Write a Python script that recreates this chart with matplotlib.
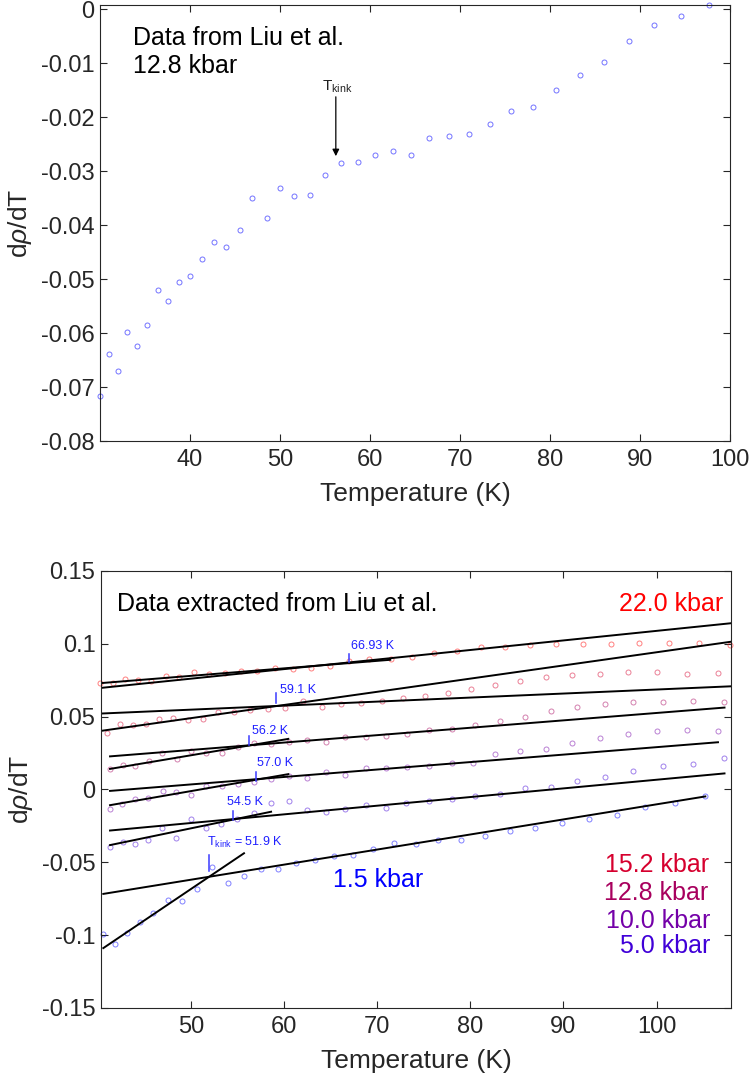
import matplotlib
matplotlib.use('Agg')
import matplotlib.pyplot as plt

plt.rcParams['font.family'] = ['Liberation Sans', 'DejaVu Sans']
plt.rcParams['mathtext.fontset'] = 'custom'
plt.rcParams['mathtext.rm'] = 'Liberation Sans'
plt.rcParams['mathtext.it'] = 'Liberation Sans:italic'
plt.rcParams['axes.unicode_minus'] = False

# ---- top panel data (12.8 kbar, Liu et al.) ----
top_T = [30.0, 31.0, 32.0, 33.0, 34.1, 35.25, 36.4, 37.6, 38.8, 40.0, 41.3, 42.7, 44.0,
         45.5, 46.9, 48.5, 50.0, 51.6, 53.3, 55.0, 56.8, 58.7, 60.6, 62.5, 64.5, 66.6,
         68.8, 71.0, 73.3, 75.7, 78.1, 80.7, 83.3, 86.0, 88.8, 91.6, 94.6, 97.7]
top_v = [-0.0717, -0.0638, -0.0670, -0.0597, -0.0623, -0.0584, -0.0520, -0.0540, -0.0506,
         -0.0494, -0.0462, -0.0431, -0.0440, -0.0409, -0.0350, -0.0386, -0.0331, -0.0346,
         -0.0344, -0.0307, -0.0285, -0.0282, -0.0269, -0.0262, -0.0269, -0.0239, -0.0235,
         -0.0230, -0.0213, -0.0188, -0.0181, -0.0149, -0.0122, -0.0098, -0.0059, -0.0029,
         -0.0012, 0.0008]
top_kink = 56.2

# ---- bottom panel data ----
T_220 = [40.22, 41.59, 42.94, 44.34, 45.75, 47.26, 48.74, 50.34, 51.95, 53.63, 55.37, 57.12,
         58.98, 60.92, 62.85, 64.89, 66.94, 69.15, 71.45, 73.73, 76.10, 78.57, 81.11, 83.72,
         86.44, 89.23, 92.13, 95.11, 98.15, 101.37, 104.59, 107.92]
v_220 = [0.0730, 0.0733, 0.0760, 0.0753, 0.0742, 0.0776, 0.0774, 0.0808, 0.0790, 0.0801,
         0.0812, 0.0810, 0.0836, 0.0826, 0.0836, 0.0849, 0.0881, 0.0895, 0.0895, 0.0906,
         0.0934, 0.0952, 0.0975, 0.0979, 0.0993, 0.0995, 0.0995, 0.0995, 0.1004, 0.1002,
         0.1002, 0.0993]

T_152 = [41.01, 42.37, 43.73, 45.13, 46.59, 48.10, 49.67, 51.29, 52.93, 54.65, 56.37, 58.24,
         60.13, 62.06, 64.07, 66.14, 68.29, 70.48, 72.77, 75.16, 77.57, 80.07, 82.68, 85.34,
         88.10, 90.95, 93.89, 96.94, 100.08, 103.30, 106.64]
v_152 = [0.0388, 0.0449, 0.0440, 0.0452, 0.0486, 0.0493, 0.0479, 0.0482, 0.0529, 0.0532,
         0.0548, 0.0550, 0.0562, 0.0605, 0.0568, 0.0589, 0.0593, 0.0610, 0.0625, 0.0644,
         0.0660, 0.0689, 0.0719, 0.0742, 0.0774, 0.0788, 0.0795, 0.0808, 0.0803, 0.0795,
         0.0797]

T_128 = [41.30, 42.66, 44.01, 45.45, 46.91, 48.46, 50.03, 51.64, 53.29, 55.01, 56.76, 58.62,
         60.49, 62.49, 64.50, 66.57, 68.76, 70.97, 73.23, 75.59, 78.03, 80.53, 83.19, 85.87,
         88.66, 91.49, 94.46, 97.50, 100.69, 103.92, 107.28]
v_128 = [0.0139, 0.0168, 0.0162, 0.0192, 0.0247, 0.0212, 0.0264, 0.0253, 0.0253, 0.0292,
         0.0319, 0.0315, 0.0329, 0.0340, 0.0326, 0.0360, 0.0363, 0.0365, 0.0384, 0.0411,
         0.0418, 0.0445, 0.0473, 0.0500, 0.0536, 0.0568, 0.0584, 0.0603, 0.0600, 0.0605,
         0.0603]

T_100 = [41.30, 42.62, 43.98, 45.41, 46.94, 48.44, 50.00, 51.66, 53.29, 55.01, 56.79, 58.62,
         60.49, 62.49, 64.50, 66.57, 68.76, 70.97, 73.23, 75.59, 78.03, 80.29, 82.62, 85.34,
         88.10, 90.95, 93.89, 96.94, 100.08, 103.30, 106.64]
v_100 = [-0.0137, -0.0103, -0.0066, -0.0058, -0.0012, -0.0018, -0.0037, 0.0021, 0.0024,
         0.0036, 0.0053, 0.0075, 0.0093, 0.0079, 0.0118, 0.0100, 0.0144, 0.0144, 0.0153,
         0.0158, 0.0180, 0.0180, 0.0244, 0.0267, 0.0281, 0.0319, 0.0351, 0.0384, 0.0399,
         0.0408, 0.0399]

T_50 = [41.30, 42.64, 44.00, 45.43, 46.90, 48.43, 49.99, 51.64, 53.27, 54.97, 56.79, 58.61,
        60.50, 62.49, 64.50, 66.57, 68.76, 70.94, 73.14, 75.59, 78.05, 80.53, 83.17, 85.87,
        88.66, 91.49, 94.46, 97.50, 100.69, 103.92, 107.28]
v_50 = [-0.0397, -0.0359, -0.0377, -0.0344, -0.0262, -0.0335, -0.0201, -0.0266, -0.0234,
        -0.0205, -0.0164, -0.0095, -0.0077, -0.0142, -0.0153, -0.0135, -0.0108, -0.0126,
        -0.0094, -0.0077, -0.0066, -0.0046, -0.0032, 0.0007, 0.0016, 0.0060, 0.0086,
        0.0130, 0.0162, 0.0178, 0.0216]

T_15 = [40.58, 41.83, 43.15, 44.55, 45.95, 47.53, 49.03, 50.64, 52.29, 53.94, 55.72, 57.52,
        59.37, 61.31, 63.32, 65.32, 67.43, 69.58, 71.80, 74.14, 76.53, 79.03, 81.61, 84.26,
        86.98, 89.81, 92.71, 95.72, 98.80, 102.01, 105.24]
v_15 = [-0.0993, -0.1058, -0.0982, -0.0911, -0.0845, -0.0758, -0.0763, -0.0683, -0.0534,
        -0.0642, -0.0596, -0.0548, -0.0548, -0.0505, -0.0482, -0.0457, -0.0452, -0.0411,
        -0.0368, -0.0377, -0.0347, -0.0345, -0.0322, -0.0284, -0.0267, -0.0233, -0.0201,
        -0.0178, -0.0119, -0.0096, -0.0048]

# fitted straight lines: (T start, v start, T end, v end)
fit_lines = [
    (40.33, 0.0697, 108.0, 0.1141),
    (40.33, 0.0730, 71.4, 0.0890),
    (40.33, 0.0402, 108.0, 0.1014),
    (40.33, 0.0521, 108.0, 0.0708),
    (41.30, 0.0227, 107.3, 0.0562),
    (41.30, 0.0141, 60.45, 0.0347),
    (41.30, -0.0010, 106.6, 0.0324),
    (41.30, -0.0108, 60.45, 0.0105),
    (41.30, -0.0282, 107.3, 0.0110),
    (41.30, -0.0382, 58.6, -0.0153),
    (40.58, -0.0717, 105.24, -0.0048),
    (40.58, -0.1089, 55.69, -0.0438),
]

# kink markers: T, v low, v high, label, label T, label v
kinks = [
    (66.93, 0.0874, 0.0927, '66.93 K', 67.15, 0.0966),
    (59.1, 0.0596, 0.0662, '59.1 K', 59.56, 0.0664),
    (56.2, 0.0303, 0.0365, '56.2 K', 56.52, 0.0379),
    (57.0, 0.0059, 0.0123, '57.0 K', 57.10, 0.0160),
    (54.5, -0.0210, -0.0147, '54.5 K', 53.83, -0.0108),
    (51.9, -0.0558, -0.0448, r'$\mathregular{T_{kink}}$ = 51.9 K', 51.75, -0.0388),
]

series = [
    (T_220, v_220, '#ff0000'),
    (T_152, v_152, '#d6002e'),
    (T_128, v_128, '#a8005e'),
    (T_100, v_100, '#7400a8'),
    (T_50, v_50, '#4000d8'),
    (T_15, v_15, '#0000ff'),
]

# pressure labels: text, T, v, colour, alignment
p_labels = [
    ('22.0 kbar', 107.2, 0.1228, '#ff0000', 'right'),
    ('15.2 kbar', 105.6, -0.0564, '#d6002e', 'right'),
    ('12.8 kbar', 105.6, -0.0758, '#a8005e', 'right'),
    ('10.0 kbar', 105.8, -0.0952, '#7400a8', 'right'),
    ('5.0 kbar', 105.8, -0.1123, '#4000d8', 'right'),
    ('1.5 kbar', 65.3, -0.0667, '#0000ff', 'left'),
]

axcol = '#262626'
tick_fs = 17
lab_fs = 19
txt_fs = 18


def style_axes(ax):
    for s in ax.spines.values():
        s.set_color(axcol)
        s.set_linewidth(0.8)
    ax.tick_params(direction='in', length=5, width=0.8, colors=axcol,
                   labelsize=tick_fs, top=True, right=True, labelcolor=axcol)
    ax.tick_params(axis='y', pad=4)
    ax.tick_params(axis='x', pad=6)


fig = plt.figure(figsize=(7.52, 10.85), dpi=100)

# top panel
ax1 = fig.add_axes([0.1330, 0.5935, 0.8378, 0.4018])
ax1.plot(top_T, top_v, 'o', ms=3.6, mfc='none', mec='#0000ff', mew=0.7, alpha=0.55,
         clip_on=False)
ax1.set_xlim(30, 100)
ax1.set_ylim(-0.08, 0.0008)
ax1.set_xticks([40, 50, 60, 70, 80, 90, 100])
ax1.set_yticks([-0.08, -0.07, -0.06, -0.05, -0.04, -0.03, -0.02, -0.01, 0])
ax1.set_yticklabels(['-0.08', '-0.07', '-0.06', '-0.05', '-0.04', '-0.03', '-0.02', '-0.01', '0'])
style_axes(ax1)
ax1.set_xlabel('Temperature (K)', fontsize=lab_fs, color=axcol, labelpad=8)
ax1.set_ylabel(r'd$\rho$/dT', fontsize=lab_fs, color=axcol)
ax1.yaxis.set_label_coords(-0.104, 0.5)
ax1.text(33.67, -0.0066, 'Data from Liu et al.', fontsize=txt_fs, va='baseline')
ax1.text(33.67, -0.0118, '12.8 kbar', fontsize=txt_fs, va='baseline')
ax1.annotate('', xy=(top_kink, -0.0272), xytext=(top_kink, -0.0162),
             arrowprops=dict(arrowstyle='-|>', color='black', lw=0.9,
                             mutation_scale=10, shrinkA=0, shrinkB=0))
ax1.text(top_kink + 0.2, -0.0158, r'$\mathregular{T_{kink}}$', fontsize=11,
         ha='center', va='bottom', color='#202020')

# bottom panel
ax2 = fig.add_axes([0.1343, 0.0710, 0.8378, 0.4028])
for T, v, c in series:
    ax2.plot(T, v, 'o', ms=3.6, mfc='none', mec=c, mew=0.7, alpha=0.5, clip_on=False)
for t0, v0, t1, v1 in fit_lines:
    ax2.plot([t0, t1], [v0, v1], color='black', lw=1.4)
for tk, vlo, vhi, lab, lt, lv in kinks:
    ax2.plot([tk, tk], [vlo, vhi], color='#3a3aff', lw=1.1)
    ax2.text(lt, lv, lab, fontsize=9, color='#1f1fff', va='baseline')
for lab, lt, lv, c, ha in p_labels:
    ax2.text(lt, lv, lab, fontsize=txt_fs, color=c, ha=ha, va='baseline')
ax2.text(42.0, 0.1228, 'Data extracted from Liu et al.', fontsize=txt_fs, va='baseline')
ax2.set_xlim(40.33, 108.0)
ax2.set_ylim(-0.15, 0.15)
ax2.set_xticks([50, 60, 70, 80, 90, 100])
ax2.set_yticks([-0.15, -0.1, -0.05, 0, 0.05, 0.1, 0.15])
ax2.set_yticklabels(['-0.15', '-0.1', '-0.05', '0', '0.05', '0.1', '0.15'])
style_axes(ax2)
ax2.set_xlabel('Temperature (K)', fontsize=lab_fs, color=axcol, labelpad=8)
ax2.set_ylabel(r'd$\rho$/dT', fontsize=lab_fs, color=axcol)
ax2.yaxis.set_label_coords(-0.104, 0.5)

fig.savefig('out.png', dpi=100)
